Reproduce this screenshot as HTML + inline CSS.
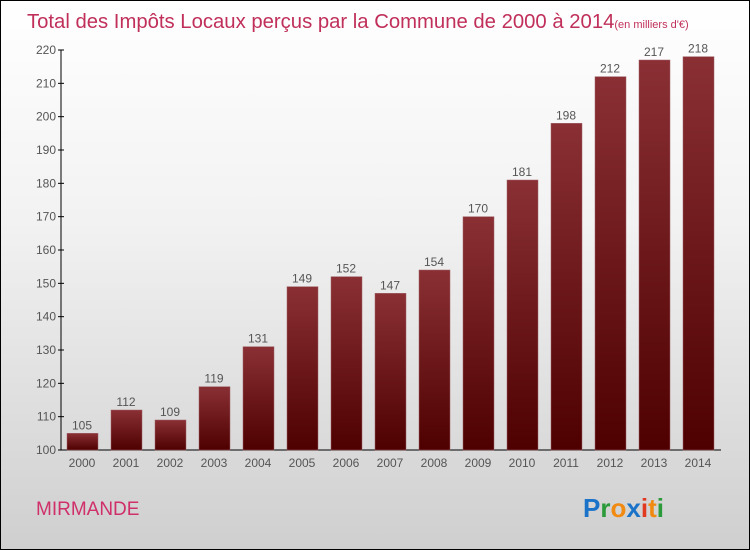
<!DOCTYPE html>
<html><head><meta charset="utf-8"><style>
body{margin:0}
#c{position:relative;width:748px;height:548px;border:1px solid #000;background:linear-gradient(#fff,#f2f2f2 40%,#cfcfcf);font-family:"Liberation Sans",sans-serif;overflow:hidden}
</style></head><body>
<div id="c">
<svg id="s" width="748" height="548">
<defs><linearGradient id="g" x1="0" y1="0" x2="0" y2="1"><stop offset="0" stop-color="#8a3035"/><stop offset="1" stop-color="#4e0000"/></linearGradient></defs>
<text x="26" y="27" font-size="20.3" fill="#c0305a">Total des Impôts Locaux perçus par la Commune de 2000 à 2014<tspan font-size="11">(en milliers d'€)</tspan></text>
<text x="35" y="514" font-size="19" fill="#d0306a">MIRMANDE</text>
<text x="582" y="516" font-size="26" font-weight="bold"><tspan fill="#1a73c8">P</tspan><tspan fill="#2a9a3a">r</tspan><tspan fill="#f08a10">o</tspan><tspan fill="#1a73c8">x</tspan><tspan fill="#e03a20">i</tspan><tspan fill="#f08a10">t</tspan><tspan fill="#2a9a3a">i</tspan></text>
<g id="plot"></g>
</svg>
</div>
<script>
const years=["2000","2001","2002","2003","2004","2005","2006","2007","2008","2009","2010","2011","2012","2013","2014"];
const values=[105,112,109,119,131,149,152,147,154,170,181,198,212,217,218];
const ticks=[100,110,120,130,140,150,160,170,180,190,200,210,220];
const NS="http://www.w3.org/2000/svg";
const g=document.getElementById('plot');
const y=v=>449-(v-100)*400/120;
const x=i=>81+i*44;
function mk(t,a){const e=document.createElementNS(NS,t);for(const k in a)e.setAttribute(k,a[k]);g.appendChild(e);return e;}
const ax=mk('line',{x1:60,y1:y(220),x2:60,y2:449,stroke:'#000'});


const bx=mk('line',{x1:60,y1:449,x2:720,y2:449,stroke:'#000'});


ticks.forEach(t=>{
 const l=mk('line',{x1:57,x2:63,y1:y(t),y2:y(t),stroke:'#000'});
 
 
 const tx=mk('text',{x:55,y:y(t)+4,'font-size':12,fill:'#555','text-anchor':'end'});
 tx.textContent=t;
 
 
});
years.forEach((yr,i)=>{
 const v=values[i];
 const r=mk('rect',{x:x(i)-15,y:y(v),width:31,height:449-y(v),fill:'url(#g)',stroke:'#a06068','stroke-width':0.5});
 
 
 const vl=mk('text',{x:x(i),y:y(v)-4,'font-size':12,fill:'#555','text-anchor':'middle'});
 vl.textContent=v;
 
 
 const xl=mk('text',{x:x(i),y:466,'font-size':12,fill:'#555','text-anchor':'middle'});
 xl.textContent=yr;
 
 
});
</script>
</body></html>
